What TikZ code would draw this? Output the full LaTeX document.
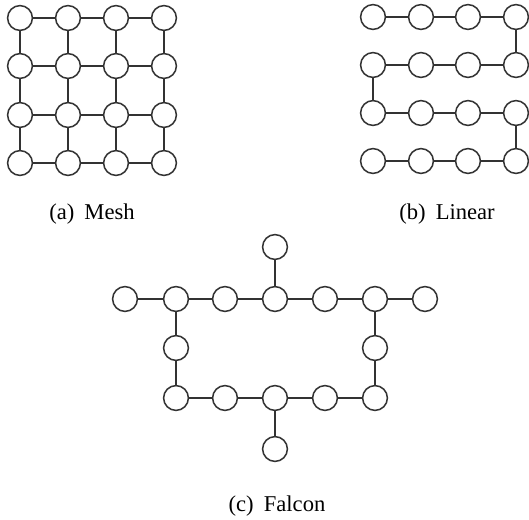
\documentclass[tikz,border=0pt]{standalone}
\usepackage{fontspec}
\setmainfont{Liberation Serif}
\tikzset{
    core/.style={draw=black!80, line width=0.75pt, circle, fill=white,
        minimum size=12.4pt, inner sep=0pt},
    link/.style={draw=black!80, line width=0.75pt},
    caption/.style={font=\fontsize{11.3}{13.5}\selectfont, inner sep=0pt}
}
\newcommand{\subgap}{\hspace{0.45em}}
\begin{document}
\begin{tikzpicture}[x=0.5pt, y=-0.5pt]
\useasboundingbox (0,0) rectangle (529,519);

% Mesh
\foreach \i/\y in {1/18, 2/66, 3/115, 4/163}
    \foreach \j/\x in {1/20, 2/68, 3/116, 4/164}
        \node[core] (m-\i-\j) at (\x,\y) {};
\foreach \i in {1,...,4}
    \foreach \j [count=\k from 2] in {1,2,3} {
        \draw[link] (m-\i-\j) -- (m-\i-\k);
        \draw[link] (m-\j-\i) -- (m-\k-\i);
    }
\node[caption] (mesh) at (92,214) {(a)\subgap Mesh};

% Linear
\foreach \i/\y in {1/17, 2/65, 3/113, 4/161}
    \foreach \j/\x in {1/373, 2/421, 3/468, 4/516}
        \node[core] (l-\i-\j) at (\x,\y) {};
\foreach \i in {1,...,4}
    \foreach \j [count=\k from 2] in {1,2,3}
        \draw[link] (l-\i-\j) -- (l-\i-\k);
\draw[link] (l-1-4) -- (l-2-4);
\draw[link] (l-2-1) -- (l-3-1);
\draw[link] (l-3-4) -- (l-4-4);
\node[caption] (linear) at (447,214) {(b)\subgap Linear};

% Falcon
\foreach \j/\x in {1/125, 2/176, 3/225, 4/275, 5/325, 6/375, 7/425}
    \node[core] (t-\j) at (\x,299) {};
\foreach \j/\x in {1/176, 2/225, 3/275, 4/325, 5/375}
    \node[core] (b-\j) at (\x,398) {};
\node[core] (top) at (275,247) {};
\node[core] (bot) at (275,449) {};
\node[core] (left) at (176,348) {};
\node[core] (right) at (375,348) {};

\draw[link] (t-1) -- (t-2) -- (t-3) -- (t-4) -- (t-5) -- (t-6) -- (t-7);
\draw[link] (b-1) -- (b-2) -- (b-3) -- (b-4) -- (b-5);
\draw[link] (top) -- (t-4);
\draw[link] (b-3) -- (bot);
\draw[link] (t-2) -- (left) -- (b-1);
\draw[link] (t-6) -- (right) -- (b-5);
\node[caption] (falcon) at (277,506) {(c)\subgap Falcon};
\end{tikzpicture}
\end{document}
